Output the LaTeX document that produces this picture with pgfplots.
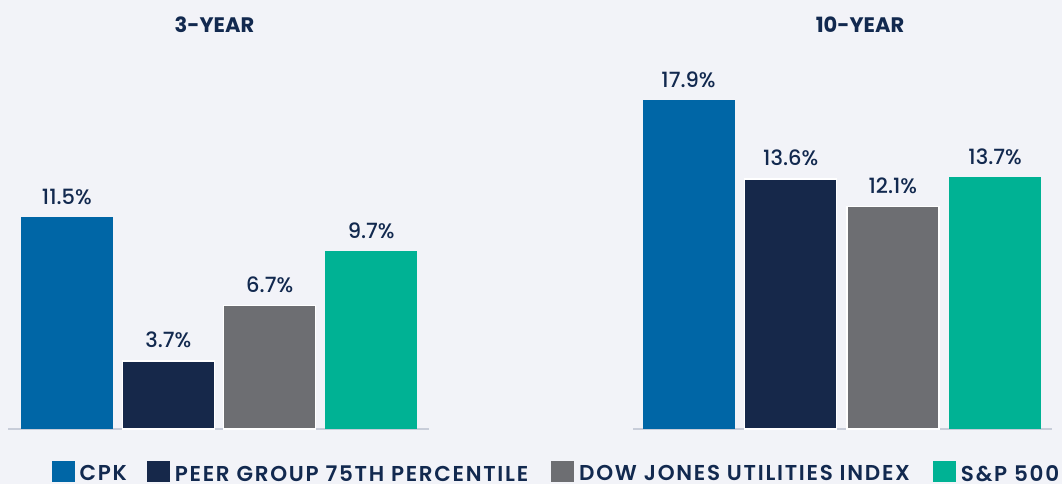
\documentclass[border=0pt]{standalone}
\usepackage{pgfplots}
\pgfplotsset{compat=1.18}
\usepackage{fontspec}
\setmainfont{Poppins}
\newfontfamily\pmed{Poppins Medium}
\newfontfamily\psemi{Poppins SemiBold}
\newfontfamily\plg{Poppins SemiBold}[LetterSpace=8]
\definecolor{bgc}{HTML}{F2F3F8}
\definecolor{cpk}{HTML}{0066A6}
\definecolor{peer}{HTML}{16284A}
\definecolor{dj}{HTML}{6D6E72}
\definecolor{sp}{HTML}{00B294}
\definecolor{navy}{HTML}{12294F}
\definecolor{basel}{HTML}{C8CDD9}
\pgfplotsset{
  panel/.style={
    scale only axis, height=368pt, ymin=0, ymax=20,
    hide axis, clip=false, ybar, bar width=92pt, bar shift=0pt,
    nodes near coords={\pgfmathprintnumber[fixed,fixed zerofill,precision=1,assume math mode=true]{\pgfplotspointmeta}\%},
    every node near coord/.append style={font=\pmed\fontsize{21}{21}\selectfont, text=navy, inner sep=0pt, yshift=12pt},
    anchor=south west,
  },
}
\begin{document}
\begin{tikzpicture}[x=1pt,y=1pt]
\fill[bgc] (0,0) rectangle (1062,484);
\useasboundingbox (0,0) rectangle (1062,484);
\draw[basel, line width=1.5pt] (8,55) -- (429,55);
\draw[basel, line width=1.5pt] (633,55) -- (1052,55);
\node[font=\bfseries\fontsize{21}{21}\selectfont, text=navy] at (214.5,459) {3-YEAR};
\node[font=\bfseries\fontsize{21}{21}\selectfont, text=navy] at (860,459) {10-YEAR};
\begin{axis}[panel, at={(8pt,55pt)}, width=421pt, xmin=-0.58, xmax=3.57,
  legend columns=4,
  legend style={draw=none, fill=none, at={(0.096,-0.116)}, anchor=west,
    font=\plg\fontsize{21.5}{21.5}\selectfont, text=navy,
    /tikz/column 1/.style={column sep=2pt},
    /tikz/column 3/.style={column sep=2pt},
    /tikz/column 5/.style={column sep=2pt},
    /tikz/column 7/.style={column sep=2pt},
    /tikz/column 2/.style={column sep=17pt},
    /tikz/column 4/.style={column sep=20pt},
    /tikz/column 6/.style={column sep=20pt},
    nodes={inner xsep=3pt, inner ysep=0pt, text depth=0pt}},
  legend image code/.code={\fill[#1,draw=none] (0pt,-9pt) rectangle (23pt,12pt);},
]
\addplot[fill=cpk, draw=none] coordinates {(0,11.5)};
\addplot[fill=peer, draw=white, line width=1.5pt] coordinates {(1,3.7)};
\addplot[fill=dj, draw=white, line width=1.5pt] coordinates {(2,6.7)};
\addplot[fill=sp, draw=none] coordinates {(3,9.7)};
\legend{CPK, PEER GROUP 75TH PERCENTILE, DOW JONES UTILITIES INDEX, S\&P 500}
\end{axis}
\begin{axis}[panel, at={(633pt,55pt)}, width=419pt, xmin=-0.543, xmax=3.557]
\addplot[fill=cpk, draw=none] coordinates {(0,17.9)};
\addplot[fill=peer, draw=white, line width=1.5pt] coordinates {(1,13.6)};
\addplot[fill=dj, draw=white, line width=1.5pt] coordinates {(2,12.1)};
\addplot[fill=sp, draw=none] coordinates {(3,13.7)};
\end{axis}
\end{tikzpicture}
\end{document}
